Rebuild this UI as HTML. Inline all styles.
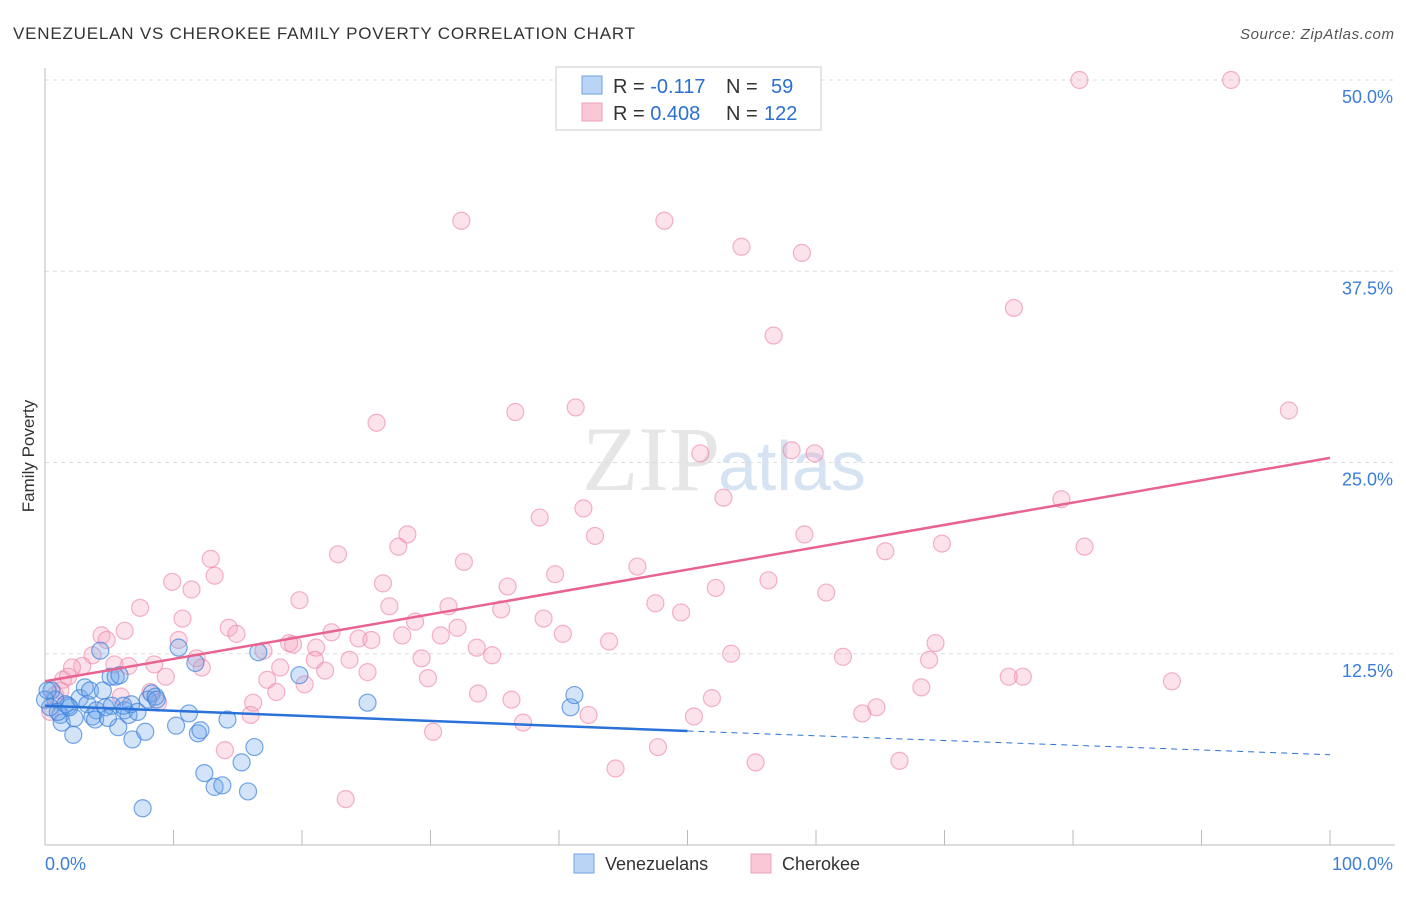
<!DOCTYPE html>
<html><head><meta charset="utf-8"><style>
body{margin:0;background:#fff;font-family:"Liberation Sans",sans-serif}
</style></head><body>
<svg id="chart" width="1406" height="892" xmlns="http://www.w3.org/2000/svg" style="font-family:'Liberation Sans',sans-serif">
<text x="13" y="39" font-size="17" fill="#333" textLength="622" lengthAdjust="spacing">VENEZUELAN VS CHEROKEE FAMILY POVERTY CORRELATION CHART</text>
<text x="1240" y="39" font-size="15" fill="#555" font-style="italic" textLength="154" lengthAdjust="spacing">Source: ZipAtlas.com</text>
<text x="720" y="490" font-size="92" fill="#e6e6e6" text-anchor="end" font-family="Liberation Serif">ZIP</text>
<text x="718" y="490" font-size="70" fill="#d5e3f3">atlas</text>
<g id="grid"></g>
<g id="axes"></g>
<g id="marks"></g>
<g id="lines"></g>
<text transform="translate(34,456) rotate(-90)" font-size="17" fill="#333" text-anchor="middle">Family Poverty</text>
<g>
<rect x="556" y="67" width="265" height="63" fill="#fff" stroke="#ccc"/>
<rect x="582" y="76" width="20" height="18" fill="#b9d4f4" stroke="#6fa2e0"/>
<rect x="582" y="103" width="20" height="18" fill="#f9c7d6" stroke="#f0a0bc"/>
<text x="613" y="93" font-size="20" fill="#333">R = <tspan fill="#2b6fd1">-0.117</tspan><tspan x="726">N =</tspan><tspan x="771" fill="#2b6fd1">59</tspan></text>
<text x="613" y="120" font-size="20" fill="#333">R = <tspan fill="#2b6fd1">0.408</tspan><tspan x="726">N =</tspan><tspan x="764" fill="#2b6fd1">122</tspan></text>
</g>
<g>
<rect x="574" y="854" width="20" height="19" fill="#b9d4f4" stroke="#6fa2e0"/>
<text x="605" y="870" font-size="18" fill="#333">Venezuelans</text>
<rect x="751" y="854" width="20" height="19" fill="#f9c7d6" stroke="#f0a0bc"/>
<text x="782" y="870" font-size="18" fill="#333">Cherokee</text>
</g>
</svg>
<script>
const yTicks=[12.5,25,37.5,50];
const yTickLabels=["12.5%","25.0%","37.5%","50.0%"];
const xTickLabels=["0.0%","100.0%"];
const blueX=[0.5,0.8,1.2,1.3,1.8,2.2,2.3,2.7,3.1,3.3,3.5,3.7,4.0,4.3,4.5,4.7,5.1,5.2,5.5,5.7,5.8,6.2,6.5,6.7,6.8,7.2,7.6,7.8,8.0,8.3,8.6,10.2,10.4,11.2,11.7,11.9,12.1,12.4,13.2,13.8,14.2,15.3,15.8,16.3,16.6,19.8,25.1,40.9,41.2,0.4,1.0,1.6,1.9,3.9,4.9,6.1,8.7,0.0,0.2];
const blueY=[10.1,9.5,8.5,8.0,9.1,7.2,8.3,9.6,10.3,9.2,10.1,8.4,8.8,12.7,10.1,9.0,11.0,9.1,11.0,7.7,11.1,8.8,8.5,9.2,6.9,8.7,2.4,7.4,9.5,9.9,9.7,7.8,12.9,8.6,11.9,7.3,7.5,4.7,3.8,3.9,8.2,5.4,3.5,6.4,12.6,11.1,9.3,9.0,9.8,9.0,8.7,9.2,9.0,8.2,8.3,9.1,9.5,9.5,10.1];
const pinkX=[80.5,92.3,32.4,48.2,54.2,58.9,75.4,56.7,96.8,25.8,36.6,41.3,51.0,58.1,59.9,79.1,52.8,38.5,41.9,28.2,42.8,27.5,59.1,69.8,80.9,65.4,22.8,32.6,12.9,46.1,39.7,13.2,36.0,26.3,56.3,9.9,52.2,11.4,60.8,19.8,26.8,31.4,47.5,7.4,49.5,35.5,10.7,38.8,28.8,14.3,22.3,14.9,6.2,4.4,32.1,27.8,24.4,25.4,30.8,40.3,10.4,4.8,19.0,19.3,21.1,17.0,33.6,43.9,69.3,34.8,53.4,62.1,11.8,8.5,68.8,21.0,3.7,23.7,29.3,6.5,2.9,2.1,9.4,12.2,5.4,18.3,21.8,25.1,29.8,17.3,20.2,75.0,76.1,87.7,18.0,68.2,1.4,1.8,1.2,33.7,36.3,51.9,5.9,8.2,16.2,8.8,64.7,63.6,16.0,37.2,42.3,50.5,30.2,14.0,47.7,44.4,55.3,66.5,23.4,0.4,0.8];
const pinkY=[50.0,50.0,40.8,40.8,39.1,38.7,35.1,33.3,28.4,27.6,28.3,28.6,25.6,25.8,25.6,22.6,22.7,21.4,22.0,20.3,20.2,19.5,20.3,19.7,19.5,19.2,19.0,18.5,18.7,18.2,17.7,17.6,16.9,17.1,17.3,17.2,16.8,16.7,16.5,16.0,15.6,15.6,15.8,15.5,15.2,15.4,14.8,14.8,14.6,14.2,13.9,13.8,14.0,13.7,14.2,13.7,13.5,13.4,13.7,13.8,13.4,13.4,13.2,13.1,12.9,12.7,12.9,13.3,13.2,12.4,12.5,12.3,12.2,11.8,12.1,12.1,12.4,12.1,12.2,11.7,11.7,11.6,11.0,11.6,11.8,11.6,11.4,11.3,10.9,10.8,10.5,11.0,11.0,10.7,10.0,10.3,10.8,11.0,10.1,9.9,9.5,9.6,9.7,10.0,9.3,9.3,9.0,8.6,8.5,8.0,8.5,8.4,7.4,6.2,6.4,5.0,5.4,5.5,3.0,8.7,9.8];
const blueTrend=[9.1,7.45,5.9];
const pinkTrend=[10.7,25.3];
const X=v=>45+v*12.85, Y=v=>845-v*15.3;
const NS="http://www.w3.org/2000/svg";
function mk(tag,attrs,parent){const e=document.createElementNS(NS,tag);for(const k in attrs)e.setAttribute(k,attrs[k]);document.getElementById(parent).appendChild(e);return e;}
yTicks.forEach((t,i)=>{
  const g=mk('line',{x1:45,x2:1395,y1:Y(t),y2:Y(t),stroke:'#ddd','stroke-dasharray':'4,4'},'grid');
  
  
  const tx=mk('text',{x:1393,y:Y(t)+23,'font-size':18,fill:'#3b7dd8','text-anchor':'end'},'grid');
  tx.textContent=yTickLabels[i];
  
  
});
const ax=mk('line',{x1:45,x2:1395,y1:845,y2:845,stroke:'#bbb'},'axes');


const ay=mk('line',{x1:45,x2:45,y1:68,y2:845,stroke:'#bbb'},'axes');


for(let i=1;i<=10;i++){const tk=mk('line',{x1:X(i*10),x2:X(i*10),y1:830,y2:845,stroke:'#bbb'},'axes');
  
  }
[[0,'start',45],[1,'end',1393]].forEach(([i,a,x])=>{const t=mk('text',{x:x,y:870,'font-size':18,fill:'#3b7dd8','text-anchor':a},'axes');t.textContent=xTickLabels[i];
  
  });
pinkX.forEach((x,i)=>{const c=mk('circle',{cx:X(x),cy:Y(pinkY[i]),r:8.5,fill:'rgba(244,160,190,0.3)',stroke:'rgba(236,130,165,0.6)','stroke-width':1.2},'marks');
  
  });
blueX.forEach((x,i)=>{const c=mk('circle',{cx:X(x),cy:Y(blueY[i]),r:8.5,fill:'rgba(110,165,235,0.3)',stroke:'rgba(60,130,220,0.7)','stroke-width':1.2},'marks');
  
  });
const l1=mk('line',{x1:X(0),y1:Y(blueTrend[0]),x2:X(50),y2:Y(blueTrend[1]),stroke:'#2a72d8','stroke-width':2.5},'lines');


const l2=mk('line',{x1:X(50),y1:Y(blueTrend[1]),x2:X(100),y2:Y(blueTrend[2]),stroke:'#2a72d8','stroke-width':1,'stroke-dasharray':'6,5'},'lines');


const l3=mk('line',{x1:X(0),y1:Y(pinkTrend[0]),x2:X(100),y2:Y(pinkTrend[1]),stroke:'#e8638f','stroke-width':2.5},'lines');


</script>
</body></html>
